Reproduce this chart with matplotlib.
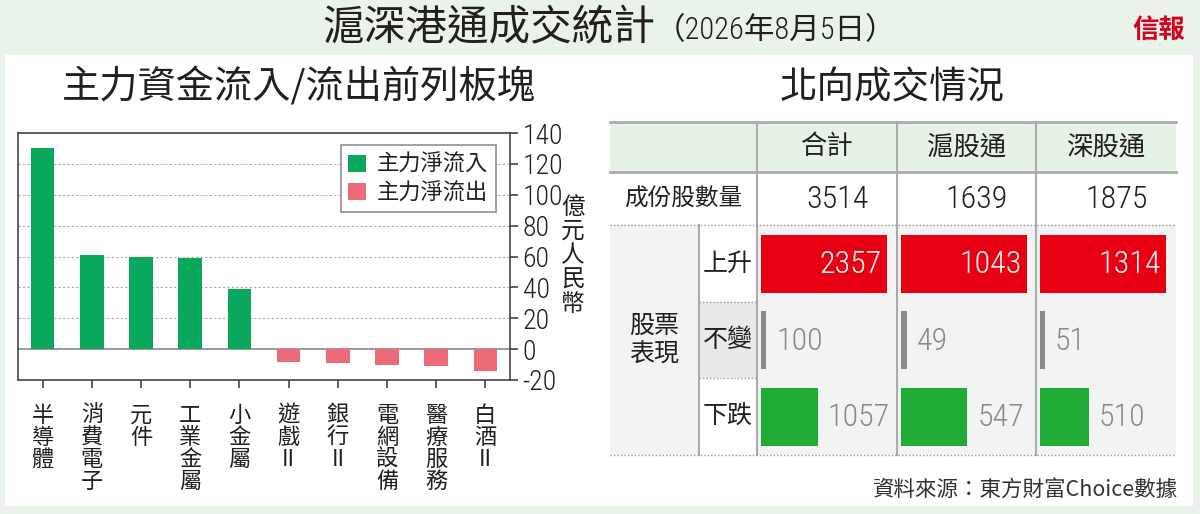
import matplotlib
matplotlib.use('Agg')
import matplotlib.pyplot as plt
from matplotlib.patches import Rectangle, Patch

CJK = 'Noto Sans CJK TC'
NUM = ['Roboto Condensed', 'DejaVu Sans', 'Noto Sans CJK TC']
plt.rcParams['font.family'] = [CJK, 'DejaVu Sans']

# ---------------- data ----------------
title = '滬深港通成交統計'
date_text = '（2026年8月5日）'
logo = '信報'
left_title = '主力資金流入/流出前列板塊'
right_title = '北向成交情況'

sectors = ['半導體', '消費電子', '元件', '工業金屬', '小金屬',
           '遊戲II', '銀行II', '電網設備', '醫療服務', '白酒II']
net_flow = [130, 61, 59.5, 59, 39, -8.5, -9, -10, -10.7, -14]
legend_labels = ['主力淨流入', '主力淨流出']
y_ticks = [-20, 0, 20, 40, 60, 80, 100, 120, 140]
y_unit = '億元人民幣'

channels = ['合計', '滬股通', '深股通']
constituents = [3514, 1639, 1875]
up_counts = [2357, 1043, 1314]
flat_counts = [100, 49, 51]
down_counts = [1057, 547, 510]
row_label = '成份股數量'
perf_label = '股票\n表現'
perf_rows = ['上升', '不變', '下跌']
source = '資料來源：東方財富Choice數據'

# ---------------- styles ----------------
GREEN = '#0aa85c'
PINK = '#ec6b78'
RED = '#e60012'
TGREEN = '#21ac38'
GRAY = '#8a8a8a'
BG = '#e9f3e9'
TXT = '#231f20'
NUMKW = dict(family=NUM, fontstretch='condensed', weight='light')

fig = plt.figure(figsize=(12, 5.14), dpi=100, facecolor=BG)

ov = fig.add_axes([0, 0, 1, 1])
ov.set_xlim(0, 1200)
ov.set_ylim(514, 0)
ov.axis('off')
ov.set_zorder(1)

ov.add_patch(Rectangle((5, 55), 1188, 451, fc='white', ec='none'))

# header
ov.text(655, 29, title, ha='right', va='center', fontsize=30, color=TXT)
ov.text(655, 31, date_text, ha='left', va='center', fontsize=22, color=TXT,
        family=['Roboto Condensed', 'Noto Sans CJK TC'],
        fontstretch='condensed', weight='light')
ov.text(1159, 30, logo, ha='center', va='center', fontsize=19,
        color='#d9001b', weight='heavy')

ov.text(62, 88, left_title, ha='left', va='center', fontsize=27.5, color=TXT)
ov.text(892, 88, right_title, ha='center', va='center', fontsize=27,
        color=TXT)

# ---------------- bar chart ----------------
ax = fig.add_axes([18 / 1200, 1 - 380 / 514, 492 / 1200, 247 / 514])
ax.set_zorder(2)
xs = list(range(len(sectors)))
colors = [GREEN if v >= 0 else PINK for v in net_flow]
ax.bar(xs, net_flow, width=0.48, color=colors, zorder=3)
ax.set_xlim(-0.5, len(sectors) - 0.5)
ax.set_ylim(y_ticks[0], y_ticks[-1])
for v in y_ticks[2:-1]:
    ax.axhline(v, color='#aaaaaa', lw=0.8, ls=(0, (2, 2)), zorder=1)
ax.axhline(0, color='#9a9a9a', lw=1.4, zorder=2)
ax.yaxis.tick_right()
ax.set_yticks(y_ticks)
ax.set_yticklabels([str(v) for v in y_ticks], fontsize=20, color=TXT,
                   **NUMKW)
ax.tick_params(axis='y', direction='out', length=6, width=1.2,
               color='#444444', pad=3)
ax.set_xticks(xs)


def vlabel(s):
    parts = []
    i = 0
    while i < len(s):
        if s[i:i + 2] == 'II':
            parts.append('II')
            i += 2
        else:
            parts.append(s[i])
            i += 1
    return '\n'.join(parts)


ax.set_xticklabels([vlabel(s) for s in sectors], fontsize=16, color=TXT,
                   linespacing=0.95, va='top')
ax.tick_params(axis='x', direction='out', length=6, width=1.2,
               color='#444444', pad=11)
for sp in ax.spines.values():
    sp.set_color('#444444')
    sp.set_linewidth(1.2)

handles = [Patch(fc=GREEN, ec='none'), Patch(fc=PINK, ec='none')]
leg = ax.legend(handles, legend_labels, loc='upper right',
                bbox_to_anchor=(0.972, 0.951), borderaxespad=0,
                fancybox=False, edgecolor='#999999', fontsize=16,
                handlelength=0.8, handleheight=0.8, handletextpad=0.5,
                labelspacing=0.25, borderpad=0.35, framealpha=1)
leg.get_frame().set_linewidth(1.3)
for t in leg.get_texts():
    t.set_color(TXT)

ov.text(573, 256, '\n'.join(y_unit), ha='center', va='center', fontsize=17,
        color=TXT, linespacing=1.08)

# ---------------- table ----------------
T_L, T_R = 610, 1176
SUB_X = 699
col_edges = [757, 897, 1036, 1176]
y_top, y_head, y_row2 = 122, 172, 225
row_edges = [225, 302, 378, 455]

ov.add_patch(Rectangle((T_L, y_top), T_R - T_L, y_head - y_top,
                       fc='#e6f2e6', ec='none'))
ov.add_patch(Rectangle((T_L, y_row2), T_R - T_L, row_edges[-1] - y_row2,
                       fc='#f2f4f2', ec='none'))
sub_bg = ['white', '#e8e9e8', 'white']
for k in range(3):
    ov.add_patch(Rectangle((SUB_X, row_edges[k]), col_edges[0] - SUB_X,
                           row_edges[k + 1] - row_edges[k],
                           fc=sub_bg[k], ec='none'))

LC = '#ababab'
ov.plot([T_L, T_R], [y_top, y_top], color=LC, lw=2)
ov.plot([T_L, T_R], [y_head, y_head], color=LC, lw=2)
for xe in col_edges[:-1]:
    ov.plot([xe, xe], [y_top, row_edges[-1]], color=LC, lw=1.5)
ov.plot([SUB_X, SUB_X], [y_row2, row_edges[-1]], color=LC, lw=1.5)
ov.plot([T_L, T_R], [y_row2, y_row2], color='#999999', lw=1, ls=(0, (1, 1.5)))
ov.plot([T_L, T_R], [row_edges[-1], row_edges[-1]], color='#999999', lw=1,
        ls=(0, (1, 1.5)))
for ye in row_edges[1:3]:
    ov.plot([SUB_X, col_edges[0]], [ye, ye], color='#999999', lw=1,
            ls=(0, (1, 1.5)))

# header & row texts
for i, name in enumerate(channels):
    cx = (col_edges[i] + col_edges[i + 1]) / 2
    ov.text(cx, 147, name, ha='center', va='center', fontsize=19, color=TXT)
    ov.text(col_edges[i + 1] - 28, 199, str(constituents[i]), ha='right',
            va='center', fontsize=23, color=TXT, **NUMKW)
ov.text((T_L + col_edges[0]) / 2, 199, row_label, ha='center', va='center',
        fontsize=17, color=TXT)
ov.text((T_L + SUB_X) / 2, 340, perf_label, ha='center', va='center',
        fontsize=18, color=TXT, linespacing=1.15)
row_centers = [(row_edges[k] + row_edges[k + 1]) / 2 for k in range(3)]
for k, name in enumerate(perf_rows):
    ov.text((SUB_X + col_edges[0]) / 2, row_centers[k], name, ha='center',
            va='center', fontsize=18, color=TXT)

# table bars
BAR_FULL = 126
BAR_H = 58
series = [up_counts, flat_counts, down_counts]
bar_cols = [RED, GRAY, TGREEN]
for i in range(3):
    scale = BAR_FULL / up_counts[i]
    x0 = col_edges[i] + 4
    for k in range(3):
        v = series[k][i]
        w = v * scale
        ov.barh(row_centers[k], w, left=x0, height=BAR_H, color=bar_cols[k],
                zorder=3)
        if k == 0:
            ov.text(x0 + w - 5, row_centers[k] + 1, str(v), ha='right',
                    va='center', fontsize=23, color='white', zorder=4,
                    **NUMKW)
        else:
            ov.text(x0 + w + 10, row_centers[k] + 1, str(v), ha='left',
                    va='center', fontsize=23, color=GRAY, zorder=4,
                    **NUMKW)

ov.text(1178, 490, source, ha='right', va='center', fontsize=15.5,
        color='#333333')

fig.savefig('out.png', dpi=100, facecolor=BG)
